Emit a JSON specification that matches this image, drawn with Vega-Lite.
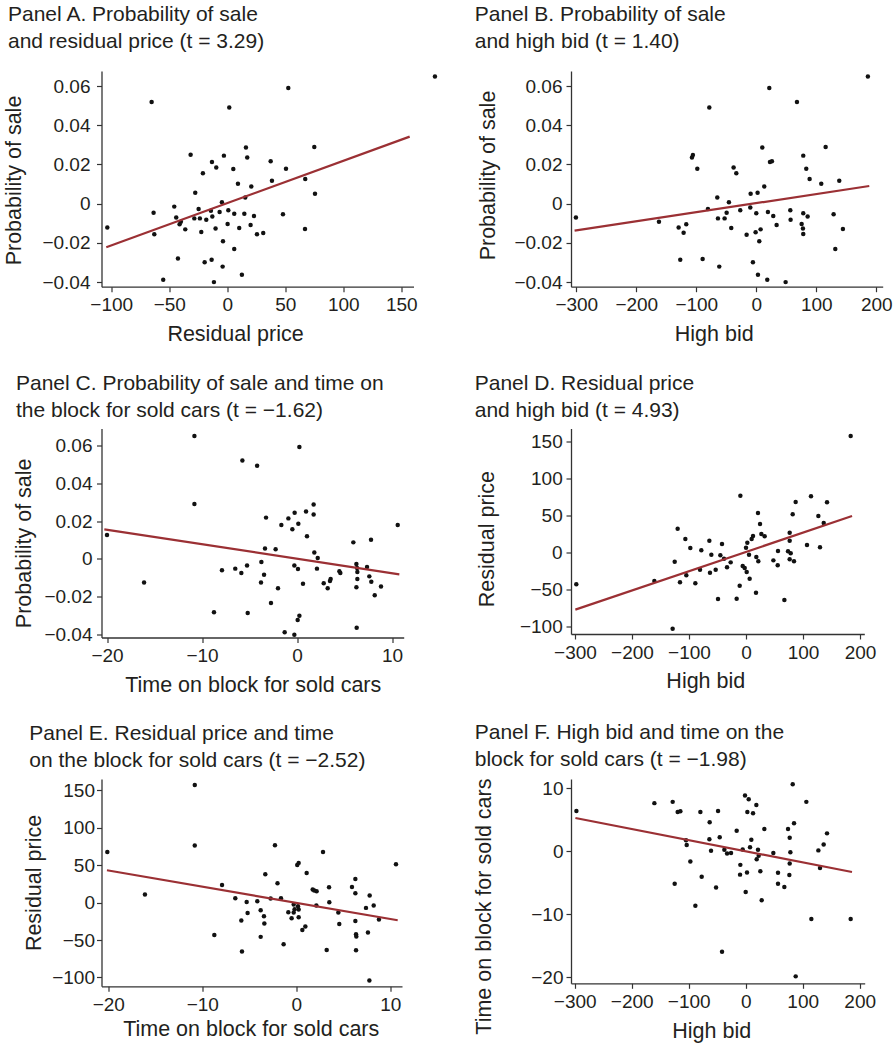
{
  "$schema": "https://vega.github.io/schema/vega-lite/v6.json",
  "padding": {"left": 2.5, "top": 4, "right": 5, "bottom": 5},
  "background": "white",
  "datasets": {
    "a": [{"x":179,"y":0.0648},{"x":52.6,"y":0.059},{"x":-65.2,"y":0.0518},{"x":1.7,"y":0.0491},{"x":75,"y":0.0289},{"x":16.1,"y":0.0286},{"x":-31.6,"y":0.025},{"x":-2.9,"y":0.0245},{"x":17.2,"y":0.0235},{"x":37.4,"y":0.0216},{"x":-13.2,"y":0.0212},{"x":-9.5,"y":0.0185},{"x":50.6,"y":0.0178},{"x":5.2,"y":0.0177},{"x":-21,"y":0.0155},{"x":38.5,"y":0.0117},{"x":67.2,"y":0.0126},{"x":9.2,"y":0.0102},{"x":20.7,"y":0.0088},{"x":-27.6,"y":0.0056},{"x":75.6,"y":0.0051},{"x":15.5,"y":0.0032},{"x":-4.6,"y":0.0007},{"x":-63.5,"y":-0.0046},{"x":-45.7,"y":-0.0015},{"x":-24.7,"y":-0.0027},{"x":-14.1,"y":-0.0036},{"x":-6.6,"y":-0.0042},{"x":0.9,"y":-0.0034},{"x":6,"y":-0.0051},{"x":14.7,"y":-0.0051},{"x":48,"y":-0.0054},{"x":-44,"y":-0.0071},{"x":-28.4,"y":-0.0075},{"x":-23.6,"y":-0.0075},{"x":-18.1,"y":-0.0082},{"x":-12.9,"y":-0.0065},{"x":23,"y":-0.0063},{"x":-40,"y":-0.0092},{"x":-41.1,"y":-0.0105},{"x":-103.4,"y":-0.0121},{"x":-36.2,"y":-0.0131},{"x":-10.1,"y":-0.0127},{"x":0.3,"y":-0.0104},{"x":10.3,"y":-0.0124},{"x":20.1,"y":-0.0109},{"x":67,"y":-0.0129},{"x":-22.4,"y":-0.0144},{"x":-62.9,"y":-0.0156},{"x":25.6,"y":-0.0156},{"x":31,"y":-0.015},{"x":-3.7,"y":-0.0192},{"x":6,"y":-0.0231},{"x":-42.5,"y":-0.028},{"x":-13.5,"y":-0.0286},{"x":-19.5,"y":-0.0299},{"x":-4,"y":-0.0321},{"x":12.6,"y":-0.0362},{"x":-55.2,"y":-0.0388},{"x":-11.5,"y":-0.04}],
    "la": [{"x":-104.3,"y":-0.0222},{"x":157.2,"y":0.0342}],
    "b": [{"x":186,"y":0.0648},{"x":21.7,"y":0.059},{"x":67.8,"y":0.0518},{"x":-78.3,"y":0.0491},{"x":10,"y":0.0287},{"x":115.6,"y":0.0289},{"x":-105.6,"y":0.0248},{"x":-107.2,"y":0.0236},{"x":78.3,"y":0.0245},{"x":22.8,"y":0.0212},{"x":26.1,"y":0.0216},{"x":-98.3,"y":0.0178},{"x":-37.8,"y":0.0185},{"x":-33.3,"y":0.0155},{"x":83.3,"y":0.0178},{"x":88.9,"y":0.0126},{"x":108.3,"y":0.0102},{"x":138.3,"y":0.0117},{"x":13.3,"y":0.0088},{"x":-9.4,"y":0.0051},{"x":2.2,"y":0.0056},{"x":-65,"y":0.0032},{"x":-45.6,"y":0.0007},{"x":-80.6,"y":-0.0027},{"x":-10,"y":-0.0019},{"x":-26.7,"y":-0.0034},{"x":-49.4,"y":-0.0046},{"x":19.4,"y":-0.0042},{"x":0,"y":-0.0049},{"x":28.3,"y":-0.0063},{"x":56.7,"y":-0.0034},{"x":78.3,"y":-0.0049},{"x":85.6,"y":-0.0065},{"x":128.9,"y":-0.0054},{"x":-162.2,"y":-0.0092},{"x":-63.9,"y":-0.0075},{"x":-52.8,"y":-0.0075},{"x":-116.7,"y":-0.0105},{"x":57.2,"y":-0.0082},{"x":75.6,"y":-0.0104},{"x":33.9,"y":-0.0109},{"x":-129.4,"y":-0.0121},{"x":-41.7,"y":-0.0124},{"x":7.2,"y":-0.0131},{"x":77.8,"y":-0.0127},{"x":144.4,"y":-0.0129},{"x":-121.1,"y":-0.0148},{"x":-16.1,"y":-0.0158},{"x":-1.1,"y":-0.0146},{"x":78.3,"y":-0.0155},{"x":5,"y":-0.0192},{"x":131.7,"y":-0.0231},{"x":-126.7,"y":-0.0286},{"x":-89.4,"y":-0.0282},{"x":-61.7,"y":-0.0321},{"x":-5.6,"y":-0.0299},{"x":2.8,"y":-0.0362},{"x":18.3,"y":-0.0388},{"x":48.9,"y":-0.04},{"x":-300.6,"y":-0.007}],
    "lb": [{"x":-302.8,"y":-0.01377},{"x":188.3,"y":0.009}],
    "c": [{"x":-10.8,"y":0.0651},{"x":0.25,"y":0.0593},{"x":-5.75,"y":0.0521},{"x":-4.2,"y":0.0494},{"x":-10.8,"y":0.0291},{"x":1.75,"y":0.0289},{"x":1.75,"y":0.0236},{"x":0.95,"y":0.0251},{"x":-0.25,"y":0.0245},{"x":-3.26,"y":0.0219},{"x":-0.91,"y":0.0215},{"x":0.14,"y":0.0187},{"x":-1.65,"y":0.018},{"x":-0.49,"y":0.0157},{"x":10.6,"y":0.018},{"x":-20,"y":0.0127},{"x":1.05,"y":0.012},{"x":5.93,"y":0.0088},{"x":7.79,"y":0.0102},{"x":-3.37,"y":0.0056},{"x":-2.25,"y":0.0051},{"x":1.82,"y":0.0034},{"x":2.18,"y":0.0005},{"x":-3.75,"y":-0.0016},{"x":-0.28,"y":-0.0034},{"x":0.1,"y":-0.0053},{"x":2.1,"y":-0.0051},{"x":-7.9,"y":-0.006},{"x":-6.5,"y":-0.0051},{"x":-5.86,"y":-0.0074},{"x":-5.26,"y":-0.0034},{"x":-3.47,"y":-0.0083},{"x":4.46,"y":-0.0065},{"x":4.56,"y":-0.0074},{"x":6.25,"y":-0.0026},{"x":6.32,"y":-0.0048},{"x":6.35,"y":-0.0069},{"x":7.37,"y":-0.0042},{"x":6.35,"y":-0.0106},{"x":3.54,"y":-0.0106},{"x":3.47,"y":-0.0116},{"x":2.81,"y":-0.0129},{"x":3.23,"y":-0.0155},{"x":7.61,"y":-0.0092},{"x":7.82,"y":-0.012},{"x":8.84,"y":-0.0146},{"x":6.25,"y":-0.015},{"x":8.18,"y":-0.0192},{"x":-16.1,"y":-0.0124},{"x":-3.79,"y":-0.0125},{"x":0.63,"y":-0.0131},{"x":-2,"y":-0.0155},{"x":-2.74,"y":-0.0233},{"x":-8.74,"y":-0.0282},{"x":-5.19,"y":-0.0286},{"x":0.25,"y":-0.03},{"x":0.07,"y":-0.0323},{"x":6.28,"y":-0.0364},{"x":-1.3,"y":-0.0388},{"x":-0.28,"y":-0.0401}],
    "lc": [{"x":-20.28,"y":0.0157},{"x":10.77,"y":-0.0081}],
    "d": [{"x":183.6,"y":156.8},{"x":-9.9,"y":76.1},{"x":114,"y":75.2},{"x":87.1,"y":67.6},{"x":142.1,"y":67.1},{"x":21,"y":52.7},{"x":81.9,"y":50.9},{"x":126.9,"y":48.6},{"x":136.3,"y":39.2},{"x":24.6,"y":37.8},{"x":-119.9,"y":31.5},{"x":26.9,"y":24.3},{"x":32.7,"y":21.2},{"x":76.6,"y":26.1},{"x":12.3,"y":21.6},{"x":9.9,"y":17.6},{"x":-106.4,"y":17.6},{"x":-64.3,"y":15.3},{"x":76.6,"y":15.3},{"x":-42.1,"y":10.8},{"x":2.3,"y":12.6},{"x":107,"y":9.5},{"x":-97.7,"y":5.4},{"x":0,"y":5.9},{"x":129.8,"y":6.3},{"x":-78.4,"y":2.3},{"x":56.1,"y":1.4},{"x":73.7,"y":0.9},{"x":78.4,"y":-1.8},{"x":-60.8,"y":-3.6},{"x":-45,"y":-4.5},{"x":5.3,"y":-3.6},{"x":-38.6,"y":-9},{"x":18.1,"y":-6.8},{"x":48,"y":-11.3},{"x":76.6,"y":-9.9},{"x":84.2,"y":-12.6},{"x":21.6,"y":-12.6},{"x":-125.1,"y":-13.1},{"x":-26.9,"y":-14},{"x":55.6,"y":-18},{"x":-5.8,"y":-18.9},{"x":-33.3,"y":-20.7},{"x":-2.3,"y":-21.6},{"x":-80.7,"y":-23.9},{"x":-53.2,"y":-23.9},{"x":1.2,"y":-27},{"x":-63.2,"y":-27.9},{"x":-104.7,"y":-31.5},{"x":6.4,"y":-36},{"x":-160.8,"y":-39.2},{"x":-115.8,"y":-41},{"x":-88.9,"y":-42.3},{"x":-297.7,"y":-43.7},{"x":-11.1,"y":-45.5},{"x":17.5,"y":-55},{"x":-49.1,"y":-63.5},{"x":-16.4,"y":-63.1},{"x":67.3,"y":-64.9},{"x":-128.7,"y":-103.6}],
    "ld": [{"x":-299.4,"y":-77.9},{"x":186,"y":48.6}],
    "e": [{"x":-10.8,"y":157.1},{"x":-10.8,"y":76.1},{"x":-2.27,"y":76.5},{"x":-20.1,"y":67.6},{"x":2.84,"y":67.6},{"x":0.1,"y":50.3},{"x":0.25,"y":53},{"x":10.6,"y":51.2},{"x":-3.3,"y":37.8},{"x":1.1,"y":39.6},{"x":-2,"y":25.8},{"x":-7.9,"y":23.6},{"x":6.28,"y":31.6},{"x":3.48,"y":20.5},{"x":5.92,"y":20.9},{"x":1.74,"y":17.4},{"x":1.91,"y":16},{"x":2.16,"y":15.1},{"x":-16.1,"y":10.7},{"x":6.28,"y":12.5},{"x":7.8,"y":9.3},{"x":-6.49,"y":5.8},{"x":-2.73,"y":5.3},{"x":-1.63,"y":5.8},{"x":-5.28,"y":0.9},{"x":-4.15,"y":1.8},{"x":3.51,"y":0.4},{"x":-0.28,"y":-2.7},{"x":2.13,"y":-4},{"x":8.23,"y":-4},{"x":0.18,"y":-4.9},{"x":7.41,"y":-7.1},{"x":-0.18,"y":-8.9},{"x":0.25,"y":-9.3},{"x":-3.79,"y":-10.2},{"x":-0.85,"y":-12.9},{"x":-0.28,"y":-13.4},{"x":-5.18,"y":-13.8},{"x":4.47,"y":-13.4},{"x":-3.44,"y":-18.2},{"x":0.25,"y":-19.6},{"x":-0.5,"y":-20.9},{"x":8.79,"y":-22.7},{"x":-5.85,"y":-24},{"x":6.28,"y":-24.5},{"x":-3.4,"y":-28},{"x":4.57,"y":-28.5},{"x":0.96,"y":-32},{"x":0.64,"y":-36.5},{"x":-8.72,"y":-43.2},{"x":6.35,"y":-42.3},{"x":6.38,"y":-45.4},{"x":7.62,"y":-40.1},{"x":-3.79,"y":-45.8},{"x":-1.35,"y":-55.6},{"x":-5.78,"y":-65.4},{"x":3.23,"y":-63.2},{"x":6.35,"y":-63.6},{"x":7.77,"y":-104.1}],
    "le": [{"x":-20.14,"y":43.2},{"x":10.78,"y":-23.6}],
    "f": [{"x":82.5,"y":10.6},{"x":-297,"y":6.35},{"x":-160.2,"y":7.6},{"x":-128.1,"y":7.8},{"x":106.4,"y":7.8},{"x":-1.2,"y":8.8},{"x":5.3,"y":8.2},{"x":18.7,"y":7.3},{"x":-119.3,"y":6.2},{"x":-114.6,"y":6.3},{"x":-79.5,"y":6.2},{"x":-48.5,"y":6.35},{"x":2.9,"y":6.2},{"x":12.9,"y":6},{"x":-63.2,"y":4.55},{"x":84.8,"y":4.4},{"x":-15.8,"y":3.2},{"x":32.7,"y":3.5},{"x":74.3,"y":3.5},{"x":142.7,"y":2.8},{"x":77.2,"y":2.1},{"x":-63.7,"y":1.85},{"x":-45.6,"y":2.2},{"x":9.9,"y":1.8},{"x":-104.7,"y":1.7},{"x":-103.5,"y":0.95},{"x":136.8,"y":1.05},{"x":7.6,"y":0.6},{"x":-60.8,"y":0.05},{"x":-37.4,"y":0.2},{"x":-32.7,"y":-0.4},{"x":-25.7,"y":-0.3},{"x":-5.3,"y":0.25},{"x":21.6,"y":0.2},{"x":127.5,"y":0.1},{"x":48.5,"y":-0.3},{"x":78.4,"y":-0.2},{"x":22.8,"y":-0.75},{"x":19.3,"y":-1.3},{"x":-97.1,"y":-1.65},{"x":77.2,"y":-2},{"x":-9.4,"y":-2.2},{"x":130.4,"y":-2.7},{"x":2.3,"y":-3.4},{"x":25.7,"y":-3.2},{"x":56.7,"y":-3.45},{"x":76.6,"y":-3.8},{"x":-9.9,"y":-3.75},{"x":-77.2,"y":-4.1},{"x":-124.6,"y":-5.2},{"x":56.7,"y":-5.2},{"x":67.8,"y":-5.7},{"x":-52,"y":-5.8},{"x":0,"y":-6.5},{"x":28.1,"y":-7.8},{"x":-88.3,"y":-8.7},{"x":115.2,"y":-10.8},{"x":184.2,"y":-10.8},{"x":-41.5,"y":-16},{"x":87.7,"y":-19.9}],
    "lf": [{"x":-298.8,"y":5.24},{"x":186.5,"y":-3.33}]
  },
  "bounds": "flush",
  "align": "each",
  "columns": 2,
  "spacing": {"row": 141.5, "column": 157.5},
  "concat": [
    {
      "width": 312, "height": 215.7,
      "title": {"text": ["Panel A. Probability of sale", "and residual price (t = 3.29)"], "dx": -93.5, "offset": 19},
      "layer": [
        {"mark": {"type": "rule", "color": "#c8c8c8", "strokeWidth": 1.2}, "encoding": {"x": {"datum": 0, "type": "quantitative", "scale": {"domain": [-108.4, 160.5], "nice": false, "zero": false}}}},
        {"mark": {"type": "rule", "color": "#c8c8c8", "strokeWidth": 1.2}, "encoding": {"y": {"datum": 0, "type": "quantitative", "scale": {"domain": [-0.04234, 0.06766], "nice": false, "zero": false}}}},
        {"data": {"name": "a"}, "mark": {"type": "circle", "size": 20, "color": "#111111", "opacity": 1},
         "encoding": {
           "x": {"field": "x", "type": "quantitative", "scale": {"domain": [-108.4, 160.5], "nice": false, "zero": false}, "axis": {"title": "Residual price", "values": [-100, -50, 0, 50, 100, 150], "format": "~r", "titleX": 133.5, "titleY": 53.3}},
           "y": {"field": "y", "type": "quantitative", "scale": {"domain": [-0.04234, 0.06766], "nice": false, "zero": false}, "axis": {"title": "Probability of sale", "values": [-0.04, -0.02, 0, 0.02, 0.04, 0.06], "format": "~r", "titleX": -81, "titleY": 109, "labelPadding": 6.5}}
         }},
        {"data": {"name": "la"}, "mark": {"type": "line", "color": "#9b3034", "strokeWidth": 2.2}, "encoding": {"x": {"field": "x", "type": "quantitative"}, "y": {"field": "y", "type": "quantitative"}}}
      ]
    },
    {
      "width": 311.7, "height": 215.7,
      "title": {"text": ["Panel B. Probability of sale", "and high bid (t = 1.40)"], "dx": -96.3, "offset": 19},
      "layer": [
        {"mark": {"type": "rule", "color": "#c8c8c8", "strokeWidth": 1.2}, "encoding": {"x": {"datum": 0, "type": "quantitative", "scale": {"domain": [-308.8, 210.7], "nice": false, "zero": false}}}},
        {"mark": {"type": "rule", "color": "#c8c8c8", "strokeWidth": 1.2}, "encoding": {"y": {"datum": 0, "type": "quantitative", "scale": {"domain": [-0.04234, 0.06766], "nice": false, "zero": false}}}},
        {"data": {"name": "b"}, "mark": {"type": "circle", "size": 20, "color": "#111111", "opacity": 1},
         "encoding": {
           "x": {"field": "x", "type": "quantitative", "scale": {"domain": [-308.8, 210.7], "nice": false, "zero": false}, "axis": {"title": "High bid", "values": [-300, -200, -100, 0, 100, 200], "format": "~r", "titleX": 142.7, "titleY": 53.3}},
           "y": {"field": "y", "type": "quantitative", "scale": {"domain": [-0.04234, 0.06766], "nice": false, "zero": false}, "axis": {"title": "Probability of sale", "values": [-0.04, -0.02, 0, 0.02, 0.04, 0.06], "format": "~r", "titleX": -76.5, "titleY": 104, "labelPadding": 4}}
         }},
        {"data": {"name": "lb"}, "mark": {"type": "line", "color": "#9b3034", "strokeWidth": 2.2}, "encoding": {"x": {"field": "x", "type": "quantitative"}, "y": {"field": "y", "type": "quantitative"}}}
      ]
    },
    {
      "width": 302.2, "height": 209,
      "title": {"text": ["Panel C. Probability of sale and time on", "the block for sold cars (t = −1.62)"], "dx": -85.5, "offset": 7.2},
      "layer": [
        {"mark": {"type": "rule", "color": "#c8c8c8", "strokeWidth": 1.2}, "encoding": {"x": {"datum": 0, "type": "quantitative", "scale": {"domain": [-20.58, 11.23], "nice": false, "zero": false}}}},
        {"mark": {"type": "rule", "color": "#c8c8c8", "strokeWidth": 1.2}, "encoding": {"y": {"datum": 0, "type": "quantitative", "scale": {"domain": [-0.04156, 0.06908], "nice": false, "zero": false}}}},
        {"data": {"name": "c"}, "mark": {"type": "circle", "size": 20, "color": "#111111", "opacity": 1},
         "encoding": {
           "x": {"field": "x", "type": "quantitative", "scale": {"domain": [-20.58, 11.23], "nice": false, "zero": false}, "axis": {"title": "Time on block for sold cars", "values": [-20, -10, 0, 10], "format": "~r", "titleX": 151.2, "titleY": 53.5}},
           "y": {"field": "y", "type": "quantitative", "scale": {"domain": [-0.04156, 0.06908], "nice": false, "zero": false}, "axis": {"title": "Probability of sale", "values": [-0.04, -0.02, 0, 0.02, 0.04, 0.06], "format": "~r", "titleX": -71, "titleY": 114.3, "labelPadding": 4.5}}
         }},
        {"data": {"name": "lc"}, "mark": {"type": "line", "color": "#9b3034", "strokeWidth": 2.2}, "encoding": {"x": {"field": "x", "type": "quantitative"}, "y": {"field": "y", "type": "quantitative"}}}
      ]
    },
    {
      "width": 293.3, "height": 205.5,
      "title": {"text": ["Panel D. Residual price", "and high bid (t = 4.93)"], "dx": -96.3, "offset": 7.2},
      "layer": [
        {"mark": {"type": "rule", "color": "#c8c8c8", "strokeWidth": 1.2}, "encoding": {"x": {"datum": 0, "type": "quantitative", "scale": {"domain": [-307, 207.5], "nice": false, "zero": false}}}},
        {"mark": {"type": "rule", "color": "#c8c8c8", "strokeWidth": 1.2}, "encoding": {"y": {"datum": 0, "type": "quantitative", "scale": {"domain": [-110.8, 166.9], "nice": false, "zero": false}}}},
        {"data": {"name": "d"}, "mark": {"type": "circle", "size": 20, "color": "#111111", "opacity": 1},
         "encoding": {
           "x": {"field": "x", "type": "quantitative", "scale": {"domain": [-307, 207.5], "nice": false, "zero": false}, "axis": {"title": "High bid", "values": [-300, -200, -100, 0, 100, 200], "format": "~r", "titleX": 134.3, "titleY": 53}},
           "y": {"field": "y", "type": "quantitative", "scale": {"domain": [-110.8, 166.9], "nice": false, "zero": false}, "axis": {"title": "Residual price", "values": [-100, -50, 0, 50, 100, 150], "format": "~r", "titleX": -78, "titleY": 110.1, "labelPadding": 3.8}}
         }},
        {"data": {"name": "ld"}, "mark": {"type": "line", "color": "#9b3034", "strokeWidth": 2.2}, "encoding": {"x": {"field": "x", "type": "quantitative"}, "y": {"field": "y", "type": "quantitative"}}}
      ]
    },
    {
      "width": 300.5, "height": 207.3,
      "title": {"text": ["Panel E. Residual price and time", "on the block for sold cars (t = −2.52)"], "dx": -72.2, "offset": 7.7},
      "layer": [
        {"mark": {"type": "rule", "color": "#c8c8c8", "strokeWidth": 1.2}, "encoding": {"x": {"datum": 0, "type": "quantitative", "scale": {"domain": [-20.72, 11.24], "nice": false, "zero": false}}}},
        {"mark": {"type": "rule", "color": "#c8c8c8", "strokeWidth": 1.2}, "encoding": {"y": {"datum": 0, "type": "quantitative", "scale": {"domain": [-111.8, 165], "nice": false, "zero": false}}}},
        {"data": {"name": "e"}, "mark": {"type": "circle", "size": 20, "color": "#111111", "opacity": 1},
         "encoding": {
           "x": {"field": "x", "type": "quantitative", "scale": {"domain": [-20.72, 11.24], "nice": false, "zero": false}, "axis": {"title": "Time on block for sold cars", "values": [-20, -10, 0, 10], "format": "~r", "titleX": 149.2, "titleY": 49}},
           "y": {"field": "y", "type": "quantitative", "scale": {"domain": [-111.8, 165], "nice": false, "zero": false}, "axis": {"title": "Residual price", "values": [-100, -50, 0, 50, 100, 150], "format": "~r", "titleX": -61, "titleY": 103.5, "labelPadding": 2}}
         }},
        {"data": {"name": "le"}, "mark": {"type": "line", "color": "#9b3034", "strokeWidth": 2.2}, "encoding": {"x": {"field": "x", "type": "quantitative"}, "y": {"field": "y", "type": "quantitative"}}}
      ]
    },
    {
      "width": 293.7, "height": 204.3,
      "title": {"text": ["Panel F. High bid and time on the", "block for sold cars (t = −1.98)"], "dx": -96.3, "offset": 7.7},
      "layer": [
        {"mark": {"type": "rule", "color": "#c8c8c8", "strokeWidth": 1.2}, "encoding": {"x": {"datum": 0, "type": "quantitative", "scale": {"domain": [-306.5, 208.8], "nice": false, "zero": false}}}},
        {"mark": {"type": "rule", "color": "#c8c8c8", "strokeWidth": 1.2}, "encoding": {"y": {"datum": 0, "type": "quantitative", "scale": {"domain": [-21, 11.43], "nice": false, "zero": false}}}},
        {"data": {"name": "f"}, "mark": {"type": "circle", "size": 20, "color": "#111111", "opacity": 1},
         "encoding": {
           "x": {"field": "x", "type": "quantitative", "scale": {"domain": [-306.5, 208.8], "nice": false, "zero": false}, "axis": {"title": "High bid", "values": [-300, -200, -100, 0, 100, 200], "format": "~r", "titleX": 140.2, "titleY": 54.3}},
           "y": {"field": "y", "type": "quantitative", "scale": {"domain": [-21, 11.43], "nice": false, "zero": false}, "axis": {"title": "Time on block for sold cars", "values": [-20, -10, 0, 10], "format": "~r", "titleX": -80.7, "titleY": 127.1, "labelPadding": 3}}
         }},
        {"data": {"name": "lf"}, "mark": {"type": "line", "color": "#9b3034", "strokeWidth": 2.2}, "encoding": {"x": {"field": "x", "type": "quantitative"}, "y": {"field": "y", "type": "quantitative"}}}
      ]
    }
  ],
  "config": {
    "font": "Liberation Sans",
    "view": {"stroke": null},
    "axis": {"grid": false, "domainColor": "#333333", "domainWidth": 1.3, "tickColor": "#333333", "tickWidth": 1.2, "tickSize": 5, "labelFont": "Liberation Sans", "labelFontSize": 19, "labelColor": "#231f20", "labelPadding": 4, "titleFont": "Liberation Sans", "titleFontSize": 21.5, "titleFontWeight": "normal", "titleColor": "#231f20", "titleBaseline": "alphabetic", "labelOverlap": false, "labelFlush": false},
    "title": {"font": "Liberation Sans", "fontSize": 21, "fontWeight": "normal", "color": "#231f20", "anchor": "start", "frame": "group", "lineHeight": 27}
  }
}
